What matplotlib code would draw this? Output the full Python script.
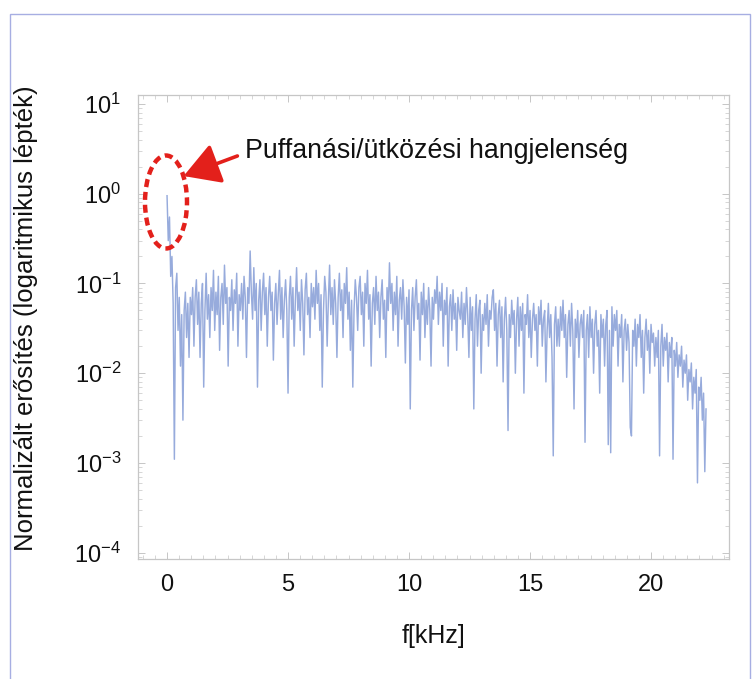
import numpy as np
import matplotlib
matplotlib.use("Agg")
import matplotlib.pyplot as plt
from matplotlib.patches import Ellipse, Rectangle, FancyArrowPatch
from matplotlib.ticker import FixedLocator, LogLocator, FuncFormatter, NullFormatter

FONT = ['Liberation Sans', 'DejaVu Sans']
plt.rcParams['font.family'] = FONT
plt.rcParams['mathtext.fontset'] = 'custom'
plt.rcParams['mathtext.rm'] = 'Liberation Sans'
plt.rcParams['mathtext.it'] = 'Liberation Sans'

# ---- data ----
freq_step_khz = 0.0505
gain = [
    0.95, 0.30, 0.55, 0.12, 0.20, 0.06, 0.0011, 0.09, 0.13, 0.03, 0.07, 0.012, 0.045, 0.003, 0.05, 0.08, 0.025, 0.06, 0.015, 0.07,
    0.045, 0.09, 0.02, 0.07, 0.11, 0.035, 0.08, 0.015, 0.06, 0.10, 0.007, 0.05, 0.13, 0.04, 0.075, 0.025, 0.09, 0.05, 0.14, 0.03,
    0.08, 0.045, 0.12, 0.018, 0.07, 0.10, 0.035, 0.16, 0.06, 0.09, 0.012, 0.07, 0.05, 0.11, 0.03, 0.085, 0.06, 0.13, 0.02, 0.075,
    0.05, 0.10, 0.04, 0.12, 0.07, 0.015, 0.09, 0.06, 0.23, 0.08, 0.04, 0.15, 0.05, 0.10, 0.007, 0.065, 0.11, 0.03, 0.08, 0.13,
    0.045, 0.09, 0.02, 0.07, 0.12, 0.05, 0.08, 0.014, 0.06, 0.10, 0.035, 0.075, 0.14, 0.04, 0.09, 0.025, 0.065, 0.11, 0.05, 0.006,
    0.07, 0.12, 0.04, 0.09, 0.02, 0.065, 0.15, 0.05, 0.08, 0.03, 0.11, 0.06, 0.016, 0.085, 0.13, 0.045, 0.07, 0.025, 0.10, 0.055,
    0.09, 0.04, 0.14, 0.06, 0.10, 0.03, 0.075, 0.007, 0.05, 0.12, 0.08, 0.02, 0.065, 0.16, 0.045, 0.09, 0.035, 0.11, 0.06, 0.015,
    0.07, 0.13, 0.05, 0.085, 0.025, 0.10, 0.06, 0.15, 0.04, 0.08, 0.018, 0.065, 0.007, 0.05, 0.11, 0.07, 0.03, 0.09, 0.12, 0.045,
    0.08, 0.02, 0.10, 0.06, 0.14, 0.04, 0.075, 0.012, 0.06, 0.09, 0.035, 0.12, 0.05, 0.08, 0.025, 0.07, 0.11, 0.04, 0.065, 0.015,
    0.09, 0.05, 0.17, 0.06, 0.10, 0.03, 0.08, 0.045, 0.12, 0.02, 0.065, 0.09, 0.04, 0.11, 0.055, 0.013, 0.07, 0.035, 0.085, 0.004,
    0.05, 0.09, 0.03, 0.07, 0.11, 0.04, 0.06, 0.014, 0.08, 0.045, 0.10, 0.025, 0.065, 0.035, 0.09, 0.05, 0.012, 0.07, 0.04, 0.085,
    0.06, 0.12, 0.035, 0.08, 0.05, 0.10, 0.02, 0.065, 0.045, 0.09, 0.012, 0.055, 0.075, 0.03, 0.085, 0.04, 0.06, 0.018, 0.07, 0.05,
    0.04, 0.08, 0.025, 0.06, 0.035, 0.09, 0.045, 0.015, 0.07, 0.03, 0.055, 0.004, 0.04, 0.075, 0.02, 0.05, 0.065, 0.01, 0.045, 0.03,
    0.06, 0.035, 0.075, 0.02, 0.05, 0.04, 0.07, 0.085, 0.03, 0.06, 0.012, 0.045, 0.065, 0.025, 0.055, 0.008, 0.04, 0.07, 0.03, 0.0023,
    0.045, 0.025, 0.065, 0.035, 0.05, 0.01, 0.04, 0.07, 0.02, 0.055, 0.03, 0.06, 0.006, 0.045, 0.035, 0.075, 0.025, 0.05, 0.015, 0.04,
    0.06, 0.03, 0.045, 0.012, 0.055, 0.035, 0.065, 0.02, 0.04, 0.05, 0.008, 0.03, 0.06, 0.025, 0.045, 0.015, 0.0012, 0.035, 0.055, 0.02,
    0.04, 0.02, 0.055, 0.03, 0.065, 0.025, 0.045, 0.009, 0.035, 0.05, 0.02, 0.06, 0.03, 0.004, 0.04, 0.025, 0.05, 0.015, 0.035, 0.045,
    0.025, 0.05, 0.0017, 0.03, 0.045, 0.015, 0.055, 0.025, 0.04, 0.01, 0.035, 0.05, 0.02, 0.03, 0.006, 0.045, 0.025, 0.04, 0.012, 0.035,
    0.05, 0.0016, 0.03, 0.0013, 0.055, 0.02, 0.045, 0.03, 0.05, 0.012, 0.035, 0.025, 0.045, 0.008, 0.03, 0.04, 0.018, 0.035, 0.022, 0.0025,
    0.002, 0.03, 0.02, 0.04, 0.012, 0.035, 0.025, 0.045, 0.015, 0.03, 0.006, 0.025, 0.04, 0.018, 0.03, 0.01, 0.035, 0.022, 0.028, 0.012,
    0.025, 0.015, 0.03, 0.0012, 0.02, 0.035, 0.012, 0.025, 0.018, 0.028, 0.008, 0.022, 0.015, 0.025, 0.0011, 0.018, 0.012, 0.022, 0.009, 0.016,
    0.012, 0.02, 0.007, 0.014, 0.01, 0.016, 0.005, 0.011, 0.008, 0.013, 0.004, 0.009, 0.006, 0.011, 0.0006, 0.007, 0.005, 0.009, 0.003, 0.006,
    0.0008, 0.004,
]
freq_khz = np.arange(len(gain)) * freq_step_khz

x_ticks = [0, 5, 10, 15, 20]
y_decades = [-4, -3, -2, -1, 0, 1]
x_label = "f[kHz]"
y_label = "Normalizált erősítés (logaritmikus lépték)"
annotation = "Puffanási/ütközési hangjelenség"

# ---- figure ----
fig = plt.figure(figsize=(7.52, 6.79), dpi=100)
W, H = 752, 679

# outer frame
fig.patches.append(Rectangle((10 / W, -0.05), 740 / W, 1.05 - 14 / H,
                             transform=fig.transFigure, fill=False,
                             edgecolor='#a7aee2', linewidth=1.0))

ax = fig.add_axes([138 / W, 1 - 559 / H, (729 - 138) / W, (559 - 95) / H])
ax.plot(freq_khz, gain, color='#97abdc', linewidth=1.05)
ax.set_yscale('log')
ax.set_xlim(-1.2, 23.22)
ax.set_ylim(10 ** -4.07, 10 ** 1.1)

ax.xaxis.set_major_locator(FixedLocator(x_ticks))
ax.xaxis.set_minor_locator(FixedLocator(np.arange(-1, 24, 0.5)))
ax.yaxis.set_major_locator(FixedLocator([10.0 ** d for d in y_decades]))
ax.yaxis.set_minor_locator(LogLocator(base=10, subs=np.arange(2, 10)))
ax.yaxis.set_minor_formatter(NullFormatter())
ax.yaxis.set_major_formatter(FuncFormatter(
    lambda v, p: r'$\mathregular{10^{%d}}$' % int(round(np.log10(v)))))

for s in ax.spines.values():
    s.set_color('#c6c6c6')
    s.set_linewidth(0.9)
ax.tick_params(which='both', direction='in', top=True, right=True,
               color='#c6c6c6', labelsize=17, labelcolor='#111111')
ax.tick_params(which='major', length=5, width=0.7)
ax.tick_params(which='minor', length=3, width=0.5)
ax.tick_params(axis='x', pad=11)
ax.tick_params(axis='y', pad=12)

ax.set_xlabel(x_label, fontsize=18, color='#111111', labelpad=20)
ax.set_ylabel(y_label, fontsize=18.5, color='#111111')
ax.yaxis.set_label_coords(-(138 - 38) / 591, 0.52)

# annotation: dashed ellipse, arrow and text (figure-pixel placement)
def fig_pt(px, py):
    return (px / W, 1 - py / H)

ell = Ellipse(fig_pt(166, 202), 42 / W, 93 / H, transform=fig.transFigure,
              fill=False, edgecolor='#e3201b', linewidth=3.2,
              linestyle=(0, (1.8, 1.1)), zorder=5)
fig.patches.append(ell)

arr = FancyArrowPatch(fig_pt(240, 155), fig_pt(181, 177), transform=fig.transFigure,
                      arrowstyle='-|>,head_length=10,head_width=5.8',
                      color='#e3201b', linewidth=2.6, mutation_scale=2.2, zorder=6)
fig.patches.append(arr)

fig.text(245 / W, 1 - 151 / H, annotation, fontsize=19.3,
         color='#111111', va='center', ha='left')

fig.savefig('out.png', dpi=100)
